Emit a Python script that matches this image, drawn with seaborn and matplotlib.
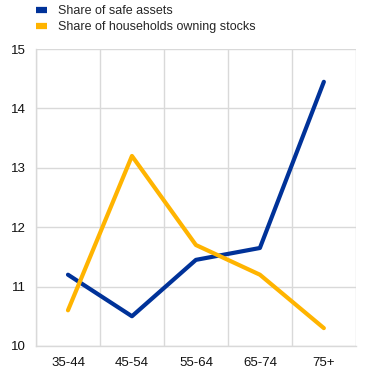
import numpy as np
import pandas as pd
import matplotlib
matplotlib.use("Agg")
import matplotlib.pyplot as plt
import seaborn as sns

age_groups = ["35-44", "45-54", "55-64", "65-74", "75+"]
safe_assets = [11.2, 10.5, 11.45, 11.65, 14.45]
owning_stocks = [10.6, 13.2, 11.7, 11.2, 10.3]

df = pd.DataFrame({
    "age": age_groups * 2,
    "value": safe_assets + owning_stocks,
    "series": ["Share of safe assets"] * 5 + ["Share of households owning stocks"] * 5,
})

sns.set_style("white")
plt.rcParams["font.family"] = ["Liberation Sans", "DejaVu Sans"]

fig = plt.figure(figsize=(3.73, 3.9), dpi=100)
ax = fig.add_axes([0.0965, 0.113, 0.8575, 0.761])

palette = {"Share of safe assets": "#003299",
           "Share of households owning stocks": "#FFB400"}
sns.lineplot(data=df, x="age", y="value", hue="series", palette=palette,
             linewidth=3, ax=ax, sort=False)

ax.set_xlim(-0.5, 4.5)
ax.set_ylim(10, 15)
ax.set_yticks([10, 11, 12, 13, 14, 15])
ax.set_xticks(range(5))
ax.set_xticklabels(age_groups)
ax.set_xticks(np.arange(-0.5, 5, 1), minor=True)
ax.grid(axis="y", which="major", color="#d9d9d9", linewidth=1)
ax.grid(axis="x", which="minor", color="#d9d9d9", linewidth=1)
ax.grid(axis="x", which="major", visible=False)
ax.tick_params(which="both", length=0, labelsize=9.5, colors="#111111")
ax.tick_params(axis="x", pad=8)
ax.tick_params(axis="y", pad=7)
ax.set_xlabel("")
ax.set_ylabel("")
for s in ["top", "right"]:
    ax.spines[s].set_visible(False)
for s in ["left", "bottom"]:
    ax.spines[s].set_color("#d9d9d9")
    ax.spines[s].set_linewidth(1)

handles, labels = ax.get_legend_handles_labels()
leg = ax.legend(handles, labels, loc="upper left", bbox_to_anchor=(0.093, 0.99),
                bbox_transform=fig.transFigure, frameon=False, fontsize=9,
                handlelength=0.9, handletextpad=0.9, labelspacing=0.3,
                borderaxespad=0, borderpad=0.1)
for h in leg.get_lines():
    h.set_linewidth(4.5)
    h.set_solid_capstyle("butt")

fig.savefig("out.png", dpi=100)
